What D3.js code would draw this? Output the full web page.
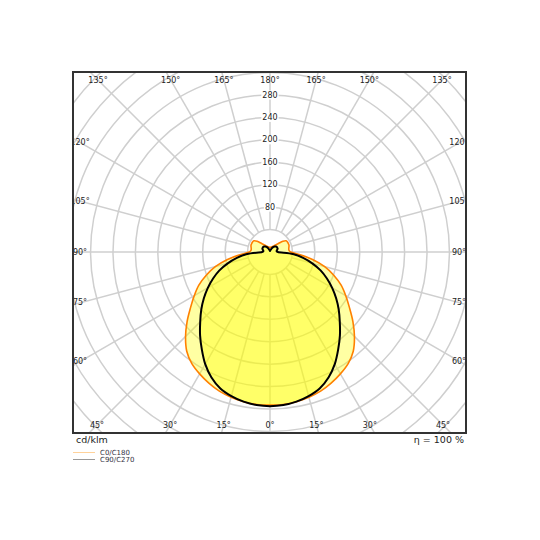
<!DOCTYPE html>
<html><head><meta charset="utf-8">
<script src="https://cdn.jsdelivr.net/npm/d3@7"></script>
<style>body{margin:0;background:#fff}svg{display:block}</style>
</head><body>
<svg id="c" width="540" height="540"></svg>
<script>
// gamma angles (degrees from nadir)
const gammas = [0,5,10,15,20,25,30,35,40,45,50,55,60,65,70,75,80,85,90,95,100,105,110,115,120,125,130,135,140,145,150,155,160,165,170,175,180];
// C0/C180 intensities (cd/klm)
const c0c180 = [273,273,271,268,264,258,251,243,231,213,193,173,156,140,121,101,77,54,37,34,34,35,36,36,36,35,30,22,17,14,12,11,10,9,9,8,8];
// C90/C270 intensities (cd/klm)
const c90c270 = [275,274,271,266,259,247,231,212,194,176,160,144,128,112,96,78,60,41,14,12,12,13,14,15,15,15,15,14,13,11,9,7,5,4,3,2,2];
const ringValues = [40,80,120,160,200,240,280,320,360,400,440,480,520];
const ringLabels = [80,120,160,200,240,280];
const spokeAngles = [0,15,30,45,60,75,90,105,120,135,150,165,180];
const seriesNames = ["C0/C180","C90/C270"];
const unitLabel = "cd/klm";
const effLabel = "η = 100 %";

const svg = d3.select("#c");
const box = {x0:73, y0:72, x1:466, y1:433};
const cx = 270, cy = 252;
const r = d3.scaleLinear().domain([0,280]).range([0,157]);
const font = "DejaVu Sans, sans-serif";

svg.append("defs").append("clipPath").attr("id","clip")
  .append("rect").attr("x",box.x0).attr("y",box.y0).attr("width",box.x1-box.x0).attr("height",box.y1-box.y0);

const g = svg.append("g").attr("clip-path","url(#clip)");
const p = g.append("g").attr("transform",`translate(${cx},${cy})`);

// rings
p.selectAll("circle.ring").data(ringValues).join("circle")
  .attr("r", d=>r(d)).attr("fill","none").attr("stroke","#cfcfcf").attr("stroke-width",1.5);
// spokes
const rad = d=>d*Math.PI/180;
const spokes = [];
spokeAngles.forEach(a=>{ spokes.push(Math.PI + rad(a)); if(a>0&&a<180) spokes.push(Math.PI - rad(a)); });
p.selectAll("line.spoke").data(spokes).join("line")
  .attr("x1", a=>r(40)*Math.sin(a)).attr("y1", a=>-r(40)*Math.cos(a))
  .attr("x2", a=>r(700)*Math.sin(a)).attr("y2", a=>-r(700)*Math.cos(a))
  .attr("stroke","#cfcfcf").attr("stroke-width",1.5);

// curves
function pts(vals){
  const out = [];
  for(let i=gammas.length-1;i>=0;i--) out.push([Math.PI - rad(gammas[i]), r(vals[i])]);
  for(let i=1;i<gammas.length-1;i++) out.push([Math.PI + rad(gammas[i]), r(vals[i])]);
  return out;
}
const line = d3.lineRadial().angle(d=>d[0]).radius(d=>d[1]).curve(d3.curveCatmullRomClosed.alpha(0.5));
p.append("path").attr("d", line(pts(c0c180))).attr("fill","rgba(255,255,0,0.36)").attr("stroke","none");
p.append("path").attr("d", line(pts(c90c270))).attr("fill","rgba(255,255,0,0.36)").attr("stroke","none");
p.append("path").attr("d", line(pts(c0c180))).attr("fill","none").attr("stroke","#ff8000").attr("stroke-width",1.6);
p.append("path").attr("d", line(pts(c90c270))).attr("fill","none").attr("stroke","#000").attr("stroke-width",2);

// ring value labels
ringLabels.forEach(v=>{
  const t = p.append("text").attr("x",0).attr("y",-r(v)).attr("text-anchor","middle").attr("dominant-baseline","central")
    .attr("font-family",font).attr("font-size",8).attr("fill","#222").text(v);
  const bb = t.node().getBBox();
  p.insert("rect","text").attr("x",bb.x-1).attr("y",bb.y).attr("width",bb.width+2).attr("height",bb.height).attr("fill","#fff");
});
p.selectAll("text").raise();

// angle labels
const inset = {x0:80, y0:80, x1:459, y1:425};
spokes.forEach(a=>{
  const dx = Math.sin(a), dy = -Math.cos(a);
  let t = Infinity;
  if(dx<-1e-9) t=Math.min(t,(inset.x0-cx)/dx);
  if(dx>1e-9) t=Math.min(t,(inset.x1-cx)/dx);
  if(dy<-1e-9) t=Math.min(t,(inset.y0-cy)/dy);
  if(dy>1e-9) t=Math.min(t,(inset.y1-cy)/dy);
  let deg = Math.round(Math.abs(a*180/Math.PI - 180));
  g.append("text").attr("x",cx+dx*t).attr("y",cy+dy*t).attr("text-anchor","middle").attr("dominant-baseline","central")
    .attr("font-family",font).attr("font-size",8).attr("fill","#222").text(deg+"°");
});

// frame
svg.append("rect").attr("x",box.x0).attr("y",box.y0).attr("width",box.x1-box.x0).attr("height",box.y1-box.y0)
  .attr("fill","none").attr("stroke","#333").attr("stroke-width",2);

svg.append("text").attr("x",76).attr("y",443).attr("font-family",font).attr("font-size",9.5).attr("fill","#222").text(unitLabel);
svg.append("text").attr("x",464).attr("y",443).attr("text-anchor","end").attr("font-family",font).attr("font-size",9.5).attr("fill","#222").text(effLabel);

// legend
const legColors = ["#ffd29a","#999999"];
seriesNames.forEach((n,i)=>{
  const y = 452.5 + i*7;
  svg.append("line").attr("x1",73).attr("x2",95).attr("y1",y).attr("y2",y).attr("stroke",legColors[i]).attr("stroke-width",1);
  svg.append("text").attr("x",100).attr("y",y).attr("dominant-baseline","central").attr("font-family",font).attr("font-size",7).attr("fill","#334").text(n);
});
</script>
</body></html>
